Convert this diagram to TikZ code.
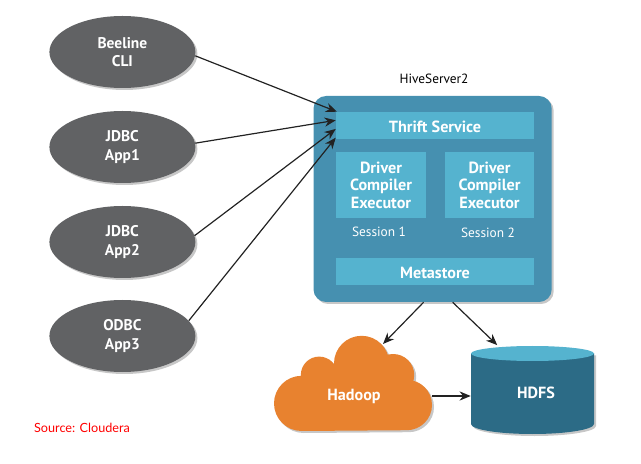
\documentclass[tikz,border=0pt]{standalone}
\usepackage{fontspec}
\setmainfont{PT Sans}
\newfontfamily\sourcefont{Lato}
\usetikzlibrary{arrows.meta,shadows,shapes.geometric}
\definecolor{client}{HTML}{616264}
\definecolor{server}{HTML}{4690B0}
\definecolor{inner}{HTML}{55B3CF}
\definecolor{cloudfill}{HTML}{E8822F}
\definecolor{store}{HTML}{2C6B86}
\definecolor{ink}{HTML}{222222}

\begin{document}
\begin{tikzpicture}[
  softshadow/.style={drop shadow={opacity=0.22, fill=black, shadow xshift=0.05cm, shadow yshift=-0.05cm}},
  clientnode/.style={ellipse, fill=client, softshadow, inner sep=0pt, minimum width=3.65cm, minimum height=1.8cm, align=center, text=white, font=\bfseries\fontsize{11}{13}\selectfont},
  ibox/.style={fill=inner, inner sep=0pt, align=center, text=white, font=\bfseries\fontsize{11.5}{12.5}\selectfont},
  ibar/.style={ibox, minimum width=4.95cm, minimum height=0.675cm, text height=9.8pt, text depth=0pt},
  slabel/.style={text=white, font=\fontsize{9.5}{11}\selectfont},
  arrow/.style={-{Stealth[length=2.8mm,width=2.3mm]}, line width=0.85pt, draw=ink},
]
\useasboundingbox (0,0) rectangle (16.025,11.575);

\node[clientnode] (beeline) at (3.06,10.275) {Beeline\\CLI};
\node[clientnode] (app1) at (3.06,7.9) {JDBC\\App1};
\node[clientnode] (app2) at (3.06,5.525) {JDBC\\App2};
\node[clientnode] (app3) at (3.06,3.175) {ODBC\\App3};

\node[text=black, font=\fontsize{9.5}{11}\selectfont] (hivelabel) at (10.85,9.6) {HiveServer2};
\node[fill=server, rounded corners=9pt, softshadow, minimum width=5.955cm, minimum height=5.15cm] (hive) at (10.815,6.6) {};
\node[ibar] (thrift) at (10.875,8.4375) {Thrift Service};
\node[ibox, minimum width=2.25cm, minimum height=1.65cm] (driver1) at (9.525,6.95) {Driver\\Compiler\\Executor};
\node[ibox, minimum width=2.225cm, minimum height=1.65cm] (driver2) at (12.2375,6.95) {Driver\\Compiler\\Executor};
\node[slabel] (session1) at (9.475,5.77) {Session 1};
\node[slabel] (session2) at (12.2,5.745) {Session 2};
\node[ibar] (meta) at (10.875,4.7875) {Metastore};

\fill[cloudfill, softshadow] (7.54,1.49) circle (0.69) (10.17,1.45) circle (0.63) (9.04,2.49) circle (0.69)
  (7.98,2.2) circle (0.46) (9.83,2.2) circle (0.525)
  (7.54,0.8) -- (10.17,0.82) -- (10.17,2.2) -- (7.54,2.2) -- cycle;
\node[minimum width=3.9cm, minimum height=1.55cm, text=white, font=\bfseries\fontsize{11.5}{13}\selectfont] (hadoop) at (8.85,1.675) {Hadoop};
\coordinate (cloudtop) at (9.575,2.975);

\fill[store, softshadow] (11.775,2.7375) -- (11.775,0.975) arc[start angle=180, end angle=360, x radius=1.5375, y radius=0.25] -- (14.85,2.7375) -- cycle;
\fill[inner] (13.3125,2.7375) ellipse (1.5375 and 0.1875);
\node[minimum width=3.25cm, minimum height=2.38cm, inner sep=0pt, text=white, font=\bfseries\fontsize{11.5}{13}\selectfont] (hdfs) at (13.4,1.75) {HDFS};

\node[text=red, font=\sourcefont\fontsize{9}{11}\selectfont] (source) at (2.05,0.875) {Source: Cloudera};

\draw[arrow] (beeline.-3) -- (thrift.172.8);
\draw[arrow] (app1.3) -- (thrift.177.4);
\draw[arrow] (app2.5) -- (thrift.182.6);
\draw[arrow] (app3.13) -- (thrift.187.2);
\draw[arrow] (hive.265.2) -- (cloudtop);
\draw[arrow] (hive.281.7) -- (hdfs.129.2);
\draw[arrow] (hadoop.east) -- (hadoop.east -| hdfs.west);
\end{tikzpicture}
\end{document}
